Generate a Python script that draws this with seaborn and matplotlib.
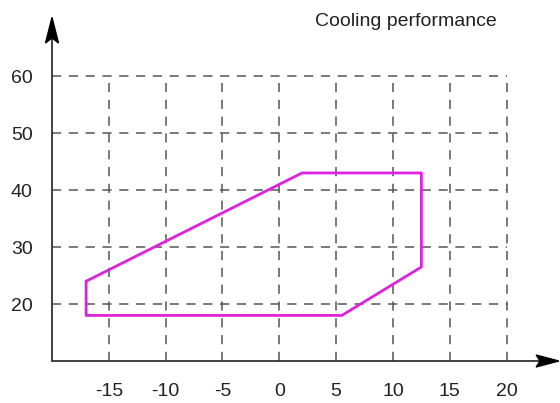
import matplotlib
matplotlib.use("Agg")
import matplotlib.pyplot as plt
import seaborn as sns
import pandas as pd
from matplotlib.patches import Polygon

# Data
x_ticks = [-15, -10, -5, 0, 5, 10, 15, 20]
y_ticks = [20, 30, 40, 50, 60]
outline_x = [-17, -17, 5.5, 12.5, 12.5, 2, -17]
outline_y = [24, 18, 18, 26.5, 43, 43, 24]
title = "Cooling performance"

sns.set_theme(style="white")
plt.rcParams['font.family'] = ['Liberation Sans', 'DejaVu Sans']

fig = plt.figure(figsize=(5.6, 4.03), dpi=100)
ax = fig.add_axes([52/560, 42/403, (560-52)/560, (361-10)/403])
ax.set_xlim(-20, 24.7)
ax.set_ylim(10, 71.6)

grid_kw = dict(color="#555555", linewidth=1.1, linestyles=(0, (6, 5)), zorder=1)
ax.hlines(y_ticks, -20, 20, **grid_kw)
ax.vlines(x_ticks, 10, 60, **grid_kw)

df = pd.DataFrame({"x": outline_x, "y": outline_y})
sns.lineplot(data=df, x="x", y="y", sort=False, estimator=None, color="#DD22DD",
             linewidth=2.0, ax=ax, zorder=3)

for s in ax.spines.values():
    s.set_visible(False)

# axis lines
ax.plot([-20, 23.0], [10, 10], color="#333333", lw=1.3, clip_on=False, zorder=4)
ax.plot([-20, -20], [10, 66.6], color="#333333", lw=1.3, clip_on=False, zorder=4)
# arrow heads (notched)
ax.add_patch(Polygon([(-20, 70.3), (-20.57, 65.8), (-20, 66.7), (-19.43, 65.8)],
                     closed=True, color="black", clip_on=False, zorder=5))
ax.add_patch(Polygon([(24.6, 10), (22.6, 11.05), (22.95, 10), (22.6, 8.95)],
                     closed=True, color="black", clip_on=False, zorder=5))

ax.set_xticks(x_ticks)
ax.set_yticks(y_ticks)
ax.set_xticklabels([str(v) for v in x_ticks])
ax.set_yticklabels([str(v) for v in y_ticks])
ax.tick_params(axis="x", length=0, pad=16, labelsize=14, labelcolor="#222222")
ax.tick_params(axis="y", length=0, pad=14, labelsize=14, labelcolor="#222222")
ax.set_xlabel("")
ax.set_ylabel("")
ax.grid(False)

fig.text(406/560, 1 - 21/403, title, ha="center", va="center", fontsize=14, color="#222222")

fig.savefig("out.png", dpi=100)
